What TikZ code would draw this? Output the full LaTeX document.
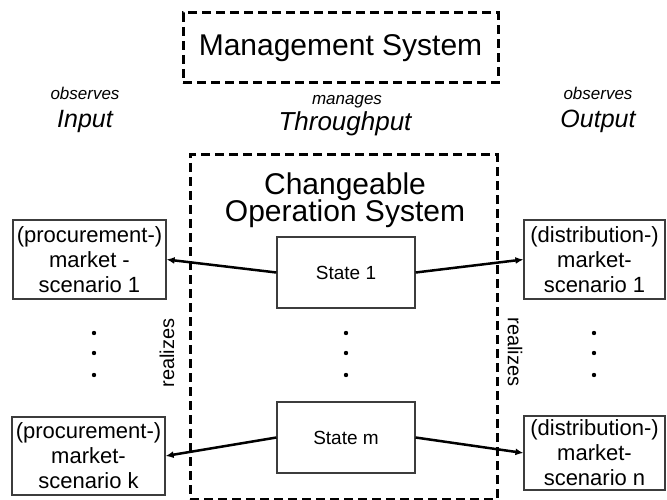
\documentclass[tikz,border=0pt]{standalone}
\usepackage{fontspec}
\setmainfont{Liberation Sans}
\usetikzlibrary{arrows.meta}
\definecolor{bordo}{RGB}{60,60,60}
\tikzstyle{diagram}=[
    x=1pt, y=-1pt,
    dashed box/.style={draw, line width=3pt, dash pattern=on 9pt off 5pt, inner sep=0pt},
    plain box/.style={draw=bordo, line width=1.2pt, inner sep=0pt, align=center},
    market/.style={plain box, minimum width=153pt, font={\fontsize{22}{25}\selectfont}},
    state/.style={plain box, minimum width=138pt, minimum height=71pt, font={\fontsize{19}{22}\selectfont}},
    title/.style={anchor=base, font={\fontsize{30}{34}\selectfont}},
    small label/.style={anchor=base, font={\fontsize{17}{20}\selectfont\itshape}},
    big label/.style={anchor=base, font={\fontsize{25}{28}\selectfont\itshape}},
    realizes/.style={font={\fontsize{20}{24}\selectfont}},
    flow/.style={line width=2.5pt, -{Latex[length=8pt,width=7pt]}},
]

\begin{document}
\begin{tikzpicture}[diagram]
    \useasboundingbox (0,0) rectangle (667,500);

    % the two systems
    \node[dashed box, minimum width=315pt, minimum height=70pt, font={\fontsize{30}{34}\selectfont}] (mgmt) at (340.5,48) {Management System};
    \node[dashed box, minimum width=307pt, minimum height=344pt] (ops) at (343.5,327) {};
    \node[title] (opsA) at (345,194) {Changeable};
    \node[title] (opsB) at (345,222) {Operation System};

    \node[small label] (obsIn) at (85,100) {observes};
    \node[big label] (input) at (85,128) {Input};
    \node[small label] (mng) at (347,105) {manages};
    \node[big label, font={\fontsize{26}{30}\selectfont\itshape}] (thru) at (345,131) {Throughput};
    \node[small label] (obsOut) at (598,100) {observes};
    \node[big label] (output) at (598,128) {Output};

    % markets
    \node[market, minimum height=79pt] (proc1) at (89.5,259.5) {(procurement-)\\market -\\scenario 1};
    \node[market, minimum height=78pt] (prock) at (88.5,456) {(procurement-)\\market-\\scenario k};
    \node[market, minimum width=141pt, minimum height=79pt] (dist1) at (594.5,259.5) {(distribution-)\\market-\\scenario 1};
    \node[market, minimum width=141pt, minimum height=74pt] (distn) at (594.5,453) {(distribution-)\\market-\\scenario n};

    % states
    \node[state] (s1) at (346,272.5) {State 1};
    \node[state] (sm) at (346,437.5) {State m};

    \draw[flow] (s1.west) -- (proc1.east);
    \draw[flow] (s1.east) -- (dist1.west);
    \draw[flow] (sm.west) -- (prock.east);
    \draw[flow] (sm.east) -- (distn.west);

    \foreach \x in {94,346,594}
        \foreach \y in {333,353,375}
            \fill (\x,\y) circle (2.2pt);

    \node[realizes, rotate=90] (realL) at (167,353) {realizes};
    \node[realizes, rotate=-90] (realR) at (515,352) {realizes};

\end{tikzpicture}
\end{document}
